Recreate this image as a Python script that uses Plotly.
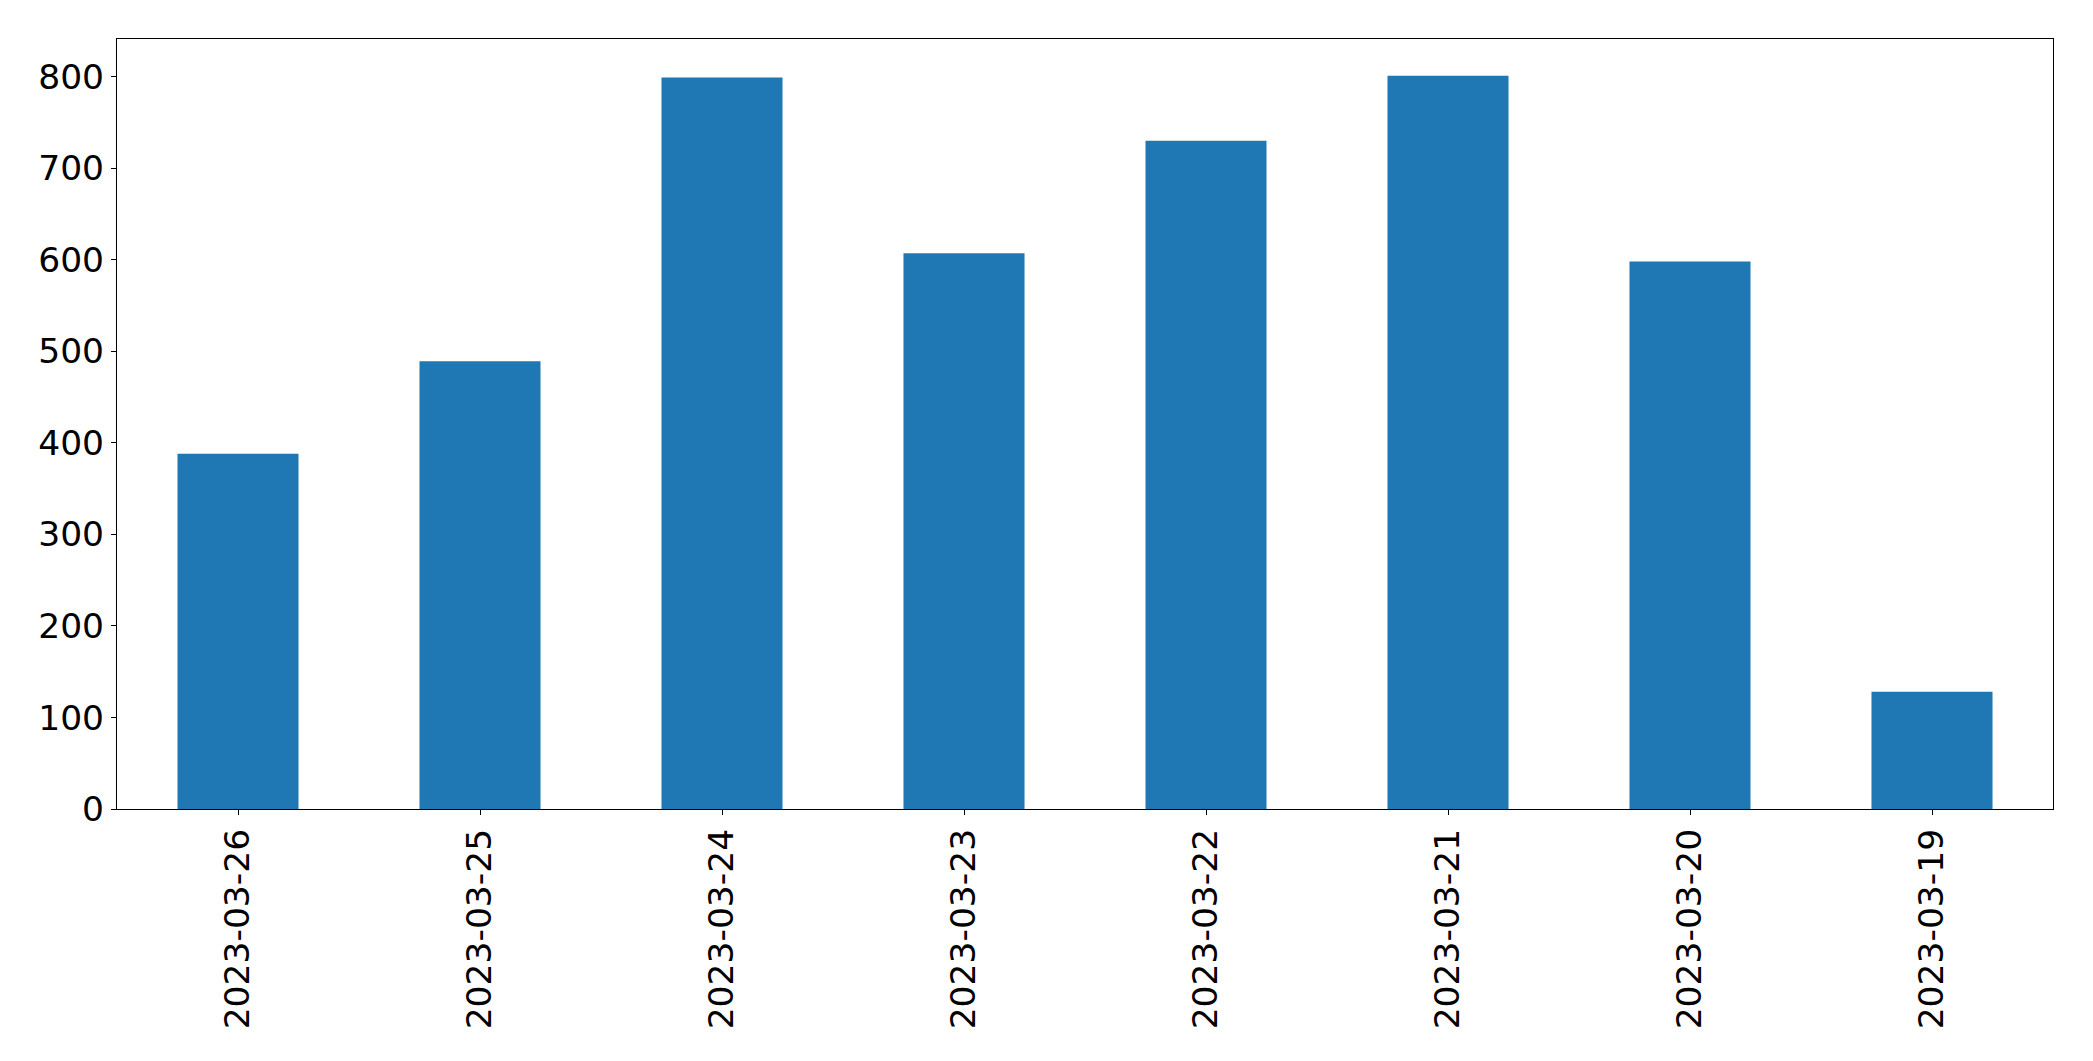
import plotly.graph_objects as go

dates = ["2023-03-26", "2023-03-25", "2023-03-24", "2023-03-23",
         "2023-03-22", "2023-03-21", "2023-03-20", "2023-03-19"]
counts = [388, 489, 799, 607, 730, 801, 598, 128]
y_ticks = [0, 100, 200, 300, 400, 500, 600, 700, 800]

font = dict(family="DejaVu Sans", size=34.5, color="black")

fig = go.Figure(go.Bar(x=dates, y=counts, width=0.5, marker=dict(color="#1f77b4", line=dict(width=0))))

fig.update_layout(
    width=2093, height=1061,
    margin=dict(l=109, r=48, t=31, b=260, autoexpand=False),
    paper_bgcolor="white", plot_bgcolor="white",
    showlegend=False, font=font, bargap=0.5,
)
fig.update_xaxes(
    type="category", range=[-0.5, 7.5], tickangle=-90,
    showline=True, linecolor="black", linewidth=1.1, mirror=True,
    ticks="outside", ticklen=5, tickwidth=1.1, tickcolor="black",
    showgrid=False, zeroline=False, tickfont=font,
)
fig.update_yaxes(
    range=[0, max(counts) * 1.05], tickvals=y_ticks,
    showline=True, linecolor="black", linewidth=1.1, mirror=True,
    ticks="outside", ticklen=5, tickwidth=1.1, tickcolor="black",
    showgrid=False, zeroline=False, tickfont=font,
)
fig.write_html("out.html")
